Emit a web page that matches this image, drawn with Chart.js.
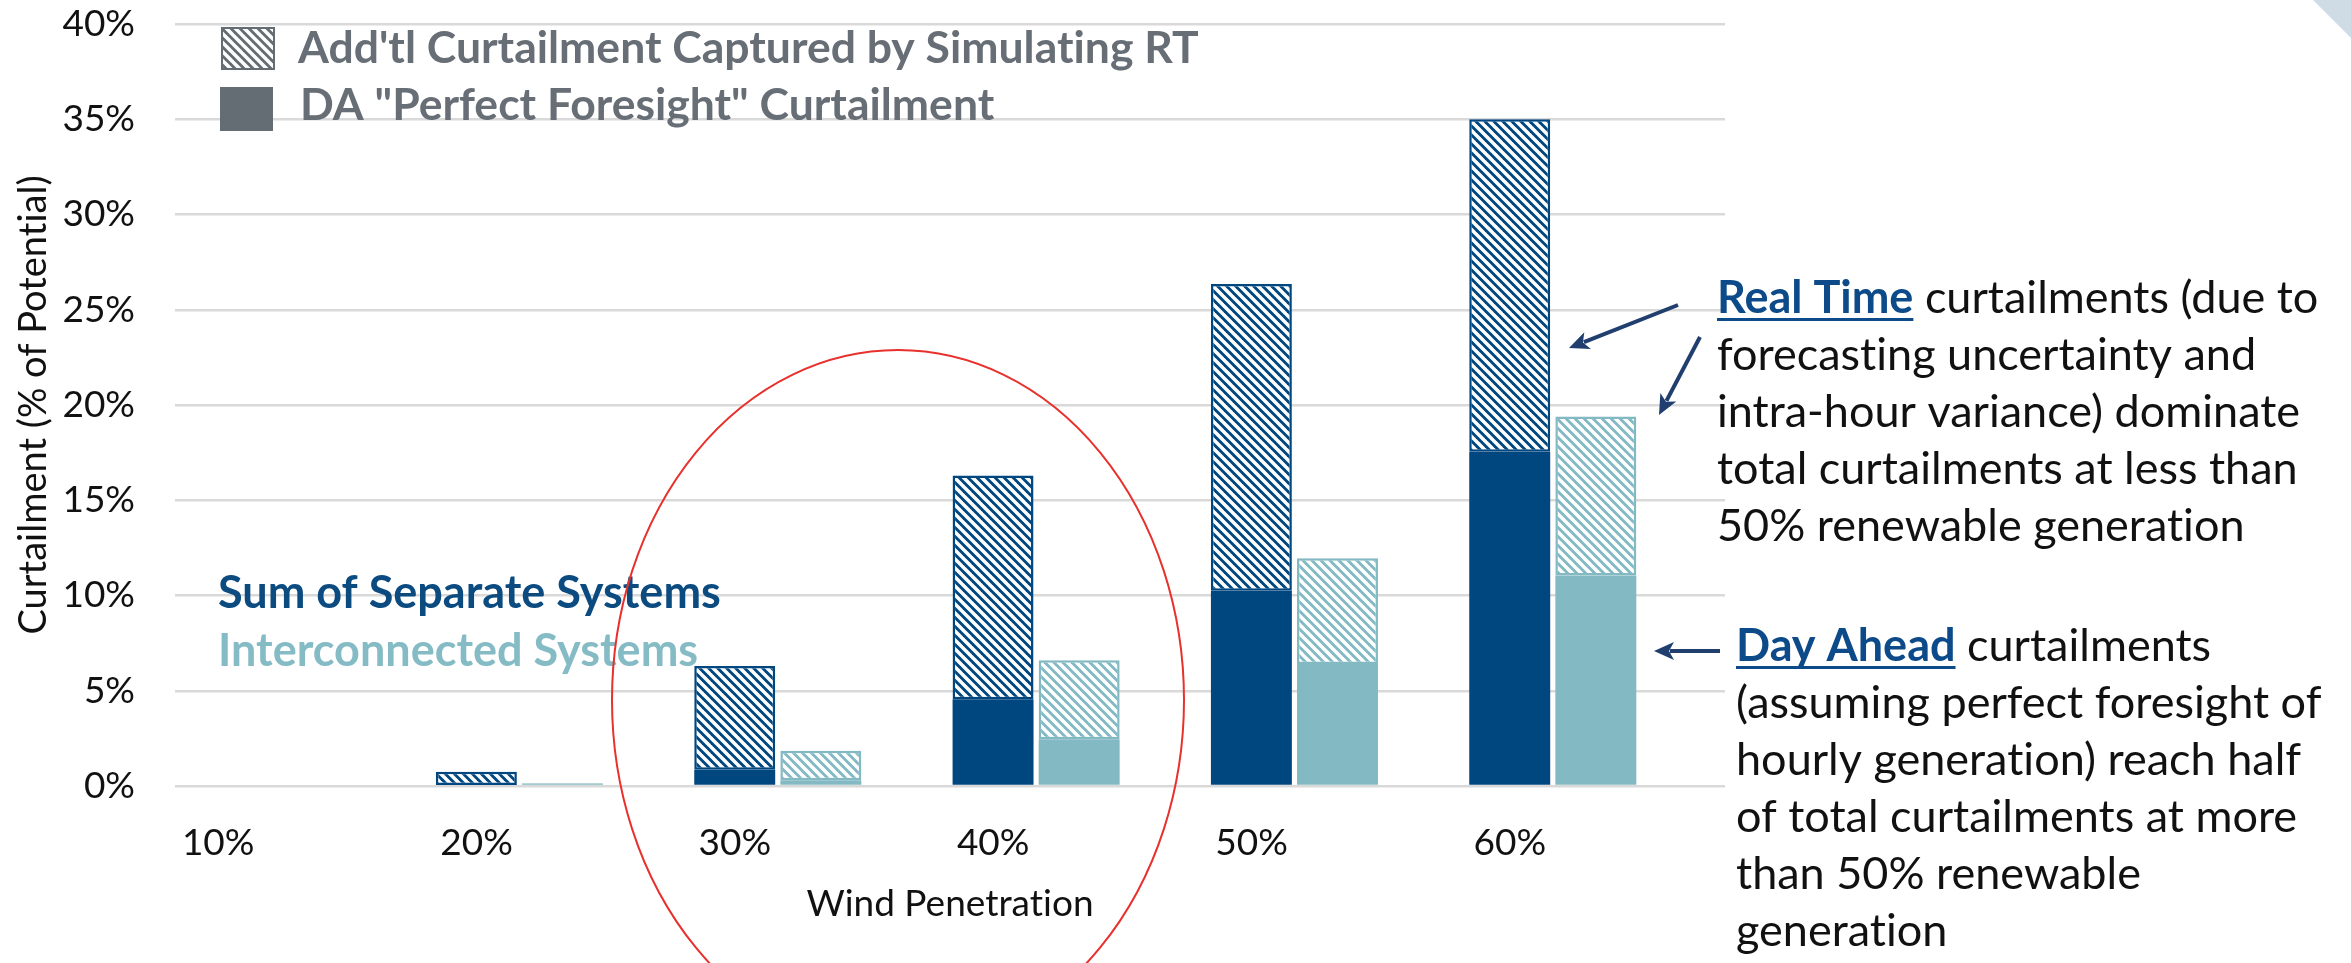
<!DOCTYPE html>
<html>
<head>
<meta charset="utf-8">
<title>Curtailment vs Wind Penetration</title>
<script src="https://cdn.jsdelivr.net/npm/chart.js@4.4.1/dist/chart.umd.min.js"></script>
<style>
  html, body { margin: 0; padding: 0; background: #fff; }
  canvas { display: block; }
</style>
</head>
<body>
<canvas id="curtailChart" width="2351" height="963"></canvas>
<script>
// x categories
const penetration = ["10%", "20%", "30%", "40%", "50%", "60%"];

// Sum of Separate Systems (% of potential)
const separateDA = [0, 0.05, 0.85, 4.55, 10.25, 17.55];
const separateRT = [0, 0.7, 5.45, 11.75, 16.1, 17.45];

// Interconnected Systems (% of potential)
const interDA = [0, 0.1, 0.3, 2.45, 6.4, 11.05];
const interRT = [0, 0.05, 1.55, 4.15, 5.55, 8.35];

// empty third slot in every group (the original chart leaves a gap there)
const spacer = [0, 0, 0, 0, 0, 0];

const yMax = 40;
const yStep = 5;

const navy = "#00467f";
const teal = "#82b9c2";
const legendGray = "#656d74";

// diagonal "\\\" hatch
function hatch(color) {
  const s = 9;
  const c = document.createElement("canvas");
  c.width = s;
  c.height = s;
  const g = c.getContext("2d");
  g.fillStyle = color;
  g.fillRect(0, 0, s, s);
  g.strokeStyle = "#fff";
  g.lineWidth = 3.5;
  for (let k = -s; k <= s; k += s) {
    g.beginPath();
    g.moveTo(k - 1, -1);
    g.lineTo(k + s + 1, s + 1);
    g.stroke();
  }
  return g.createPattern(c, "repeat");
}

function drawArrow(ctx, x1, y1, x2, y2) {
  const ang = Math.atan2(y2 - y1, x2 - x1);
  const head = 20, half = 9;
  const bx = x2 - head * Math.cos(ang);
  const by = y2 - head * Math.sin(ang);
  ctx.beginPath();
  ctx.moveTo(x1, y1);
  ctx.lineTo(bx + 4 * Math.cos(ang), by + 4 * Math.sin(ang));
  ctx.stroke();
  ctx.beginPath();
  ctx.moveTo(x2, y2);
  ctx.lineTo(bx + half * Math.sin(ang), by - half * Math.cos(ang));
  ctx.lineTo(bx + 5 * Math.cos(ang), by + 5 * Math.sin(ang));
  ctx.lineTo(bx - half * Math.sin(ang), by + half * Math.cos(ang));
  ctx.closePath();
  ctx.fill();
}

// text block with a bold underlined lead word
function drawNote(ctx, x, y, lead, lines) {
  const lh = 57;
  ctx.textBaseline = "alphabetic";
  ctx.textAlign = "left";
  ctx.font = "bold 45px Lato";
  ctx.fillStyle = "#0c4a89";
  ctx.fillText(lead, x, y);
  const w = ctx.measureText(lead).width;
  ctx.fillRect(x, y + 5, w, 3);
  ctx.font = "45px Lato";
  ctx.fillStyle = "#111";
  ctx.fillText(lines[0], x + w, y);
  for (let i = 1; i < lines.length; i++) {
    ctx.fillText(lines[i], x, y + i * lh);
  }
}

const legendHatch = hatch(legendGray);

const extras = {
  id: "extras",
  beforeDraw(chart) {
    // Calibri-like look: no "ti" ligatures
    chart.ctx.textRendering = "optimizeSpeed";
  },
  afterDatasetsDraw(chart) {
    const ctx = chart.ctx;
    ctx.save();
    // legend
    ctx.fillStyle = legendHatch;
    ctx.fillRect(221, 27, 54, 43);
    ctx.strokeStyle = legendGray;
    ctx.lineWidth = 2;
    ctx.strokeRect(222, 28, 52, 41);
    ctx.fillStyle = legendGray;
    ctx.fillRect(220, 87, 53, 44);
    ctx.font = "bold 44.5px Lato";
    ctx.fillStyle = "#676e75";
    ctx.textBaseline = "alphabetic";
    ctx.textAlign = "left";
    ctx.fillText("Add'tl Curtailment Captured by Simulating RT", 298, 63);
    ctx.fillText('DA "Perfect Foresight" Curtailment', 300, 120);

    // series labels
    ctx.font = "bold 45px Lato";
    ctx.fillStyle = "#0c4b80";
    ctx.fillText("Sum of Separate Systems", 218, 608);
    ctx.fillStyle = "#85bbc4";
    ctx.fillText("Interconnected Systems", 218, 666);
    ctx.restore();
  },
  afterDraw(chart) {
    const ctx = chart.ctx;
    ctx.save();
    // red ellipse
    ctx.strokeStyle = "#e8312d";
    ctx.lineWidth = 2;
    ctx.beginPath();
    ctx.ellipse(898, 700, 286, 350, 0, 0, Math.PI * 2);
    ctx.stroke();

    // arrows
    ctx.strokeStyle = "#203f6f";
    ctx.fillStyle = "#203f6f";
    ctx.lineWidth = 4;
    drawArrow(ctx, 1678, 305, 1569, 348);
    drawArrow(ctx, 1700, 337, 1659, 415);
    drawArrow(ctx, 1720, 651, 1654, 651);

    drawNote(ctx, 1717, 313, "Real Time", [
      " curtailments (due to",
      "forecasting uncertainty and",
      "intra-hour variance) dominate",
      "total curtailments at less than",
      "50% renewable generation"
    ]);
    drawNote(ctx, 1736, 661, "Day Ahead", [
      " curtailments",
      "(assuming perfect foresight of",
      "hourly generation) reach half",
      "of total curtailments at more",
      "than 50% renewable",
      "generation"
    ]);

    // corner decoration
    ctx.fillStyle = "#cfdce6";
    ctx.beginPath();
    ctx.moveTo(2313, 0);
    ctx.lineTo(2351, 0);
    ctx.lineTo(2351, 38);
    ctx.closePath();
    ctx.fill();
    ctx.restore();
  }
};

Chart.defaults.font.family = "Lato";
Chart.defaults.color = "#111";

const ctx = document.getElementById("curtailChart").getContext("2d");

new Chart(ctx, {
  type: "bar",
  data: {
    labels: penetration,
    datasets: [
      {
        label: 'DA "Perfect Foresight" Curtailment',
        data: separateDA,
        stack: "separate",
        backgroundColor: navy,
        borderWidth: 0
      },
      {
        label: "Add'tl Curtailment Captured by Simulating RT",
        data: separateRT,
        stack: "separate",
        backgroundColor: hatch(navy),
        borderColor: navy,
        borderWidth: 2.5,
        borderSkipped: false
      },
      {
        label: 'DA "Perfect Foresight" Curtailment (interconnected)',
        data: interDA,
        stack: "inter",
        backgroundColor: teal,
        borderWidth: 0
      },
      {
        label: "Add'tl RT Curtailment (interconnected)",
        data: interRT,
        stack: "inter",
        backgroundColor: hatch(teal),
        borderColor: teal,
        borderWidth: 2.5,
        borderSkipped: false
      },
      {
        label: "",
        data: spacer,
        stack: "spacer",
        backgroundColor: "rgba(0,0,0,0)",
        borderWidth: 0
      }
    ]
  },
  options: {
    responsive: false,
    animation: false,
    layout: { padding: { left: 11, right: 626, top: 24, bottom: 37 } },
    datasets: { bar: { categoryPercentage: 1, barPercentage: 0.94 } },
    plugins: {
      legend: { display: false },
      tooltip: { enabled: false }
    },
    scales: {
      x: {
        stacked: true,
        grid: { display: false, drawTicks: false },
        border: { display: false },
        ticks: {
          font: { size: 37 },
          padding: 35,
          labelOffset: -86, // labels sit under the first bar of each group
          maxRotation: 0
        },
        title: {
          display: true,
          text: "Wind Penetration",
          font: { size: 37 },
          padding: { top: 0, bottom: 0 }
        },
        afterFit: (scale) => {
          scale.height = 140;
        }
      },
      y: {
        stacked: true,
        min: 0,
        max: yMax,
        ticks: {
          stepSize: yStep,
          font: { size: 37 },
          padding: 40,
          callback: (v) => v + "%"
        },
        grid: { color: "#d9d9d9", lineWidth: 2.5, drawTicks: false },
        border: { display: false },
        title: {
          display: true,
          text: "Curtailment (% of Potential)",
          font: { size: 38 },
          padding: { top: 0, bottom: 0 }
        },
        afterFit: (scale) => {
          scale.width = 164;
          scale.paddingTop = 0;
          scale.paddingBottom = 0;
        }
      }
    }
  },
  plugins: [extras]
});
</script>
</body>
</html>
